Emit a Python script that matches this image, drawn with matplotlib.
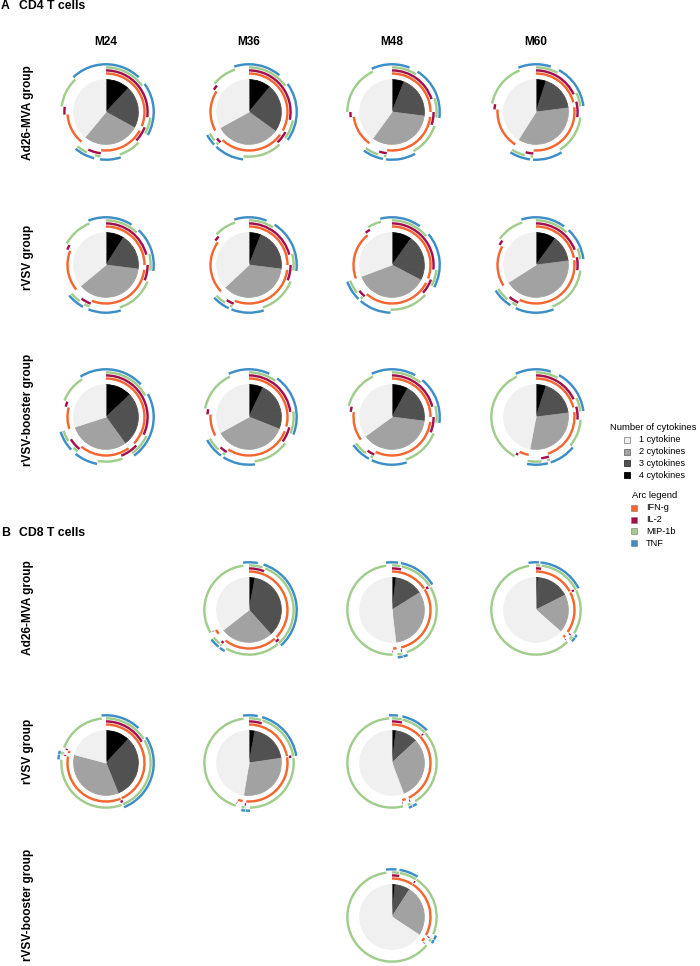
import numpy as np
import matplotlib.pyplot as plt
from matplotlib.patches import Wedge, Rectangle

plt.rcParams['font.family'] = ['Liberation Sans', 'DejaVu Sans']

months = ['M24', 'M36', 'M48', 'M60']
groups = ['Ad26-MVA group', 'rVSV group', 'rVSV-booster group']
cytokines = ['IFN-g', 'IL-2', 'MIP-1b', 'TNF']
count_labels = ['1 cytokine', '2 cytokines', '3 cytokines', '4 cytokines']

# combination order, clockwise from 12 o'clock (I=IFN-g, 2=IL-2, M=MIP-1b, T=TNF)
combos = ['I2MT', 'I2M', 'I2T', 'IMT', '2MT',
          'I2', 'IM', 'IT', '2M', '2T', 'MT',
          'I', '2', 'M', 'T']
letters = 'I2MT'

# percent of responding cells per combination
cd4_ad26 = {
    'M24': [12, 3, 12, 4, 2, 4, 8, 7, 2, 3, 4, 13, 3, 11, 12],
    'M36': [11, 4, 13, 5, 2, 3, 14, 10, 1, 1, 3, 17, 2, 9, 5],
    'M48': [6, 3, 11, 5, 2, 3, 12, 10, 1, 2, 5, 13, 2, 18, 7],
    'M60': [5, 3, 10, 3, 2, 4, 14, 10, 1, 2, 5, 17, 2, 16, 6],
}
cd4_rvsv = {
    'M24': [9, 3, 9, 4, 2, 4, 14, 11, 2, 2, 4, 17, 2, 11, 6],
    'M36': [6, 3, 12, 4, 2, 4, 14, 11, 1, 2, 4, 22, 2, 8, 5],
    'M48': [10, 4, 13, 4, 2, 4, 14, 11, 1, 2, 5, 20, 2, 5, 4],
    'M60': [10, 2, 7, 3, 1, 4, 17, 13, 2, 2, 5, 17, 2, 10, 5],
}
cd4_boost = {
    'M24': [13, 4, 15, 5, 3, 4, 9, 8, 2, 3, 4, 9, 2, 10, 9],
    'M36': [7, 3, 13, 6, 2, 4, 13, 11, 1, 2, 5, 9, 2, 15, 7],
    'M48': [8, 3, 10, 4, 2, 4, 14, 12, 1, 2, 5, 12, 2, 14, 7],
    'M60': [5, 3, 10, 3, 2, 3, 10, 9, 1, 2, 5, 4, 1, 35, 7],
}
cd8_ad26 = {
    'M36': [3, 2, 1, 32, 1, 0.5, 20, 2, 0.5, 0.5, 3, 2, 0.2, 32, 2],
    'M48': [2, 1, 0.5, 12, 0.5, 0.5, 28, 1.5, 0.2, 0.2, 1.5, 1.5, 0.2, 48, 2],
    'M60': [1, 0.5, 0.5, 15, 0.5, 0.3, 16, 1, 0.2, 0.2, 1.3, 1, 0.2, 60, 2.5],
}
cd8_rvsv = {
    'M24': [12, 4, 0.5, 27, 0.5, 0.5, 32, 1.5, 0.2, 0.2, 1, 1, 0.5, 18, 1.5],
    'M36': [3, 1.5, 0.5, 17.5, 0.5, 0.5, 27, 1.5, 0.2, 0.3, 1, 2, 0.2, 44, 2],
    'M48': [2, 1.5, 0.3, 9, 0.2, 0.3, 28, 1.5, 0.2, 0.2, 1, 1.5, 0.2, 53, 1],
}
cd8_boost = {
    'M48': [1.5, 1, 0.3, 6, 0.2, 0.3, 22, 1.5, 0.2, 0.2, 1, 1.5, 0.2, 62, 2],
}

cd4_rows = [cd4_ad26, cd4_rvsv, cd4_boost]
cd8_rows = [cd8_ad26, cd8_rvsv, cd8_boost]

count_colors = ['#f0f0f0', '#a2a2a2', '#515151', '#000000']
count_edges = ['#8c8c8c', '#6e6e6e', '#333333', '#000000']
arc_colors = ['#f4662f', '#a50e4c', '#a0cd8c', '#3d8ec6']
ring_r = [1.19, 1.285, 1.38, 1.475]
ring_w = 0.075

W, H = 700, 966
col_x = [106, 249, 392, 536]
cd4_y = [112, 265, 417]
cd8_y = [610, 763, 917]
cd4_lab_y = [113, 257, 410]
cd8_lab_y = [608, 751, 905]
box = 110


def draw_spice(ax, vals):
    v = np.array(vals, float)
    v = v / v.sum()
    n_pos = [len(c) for c in combos]
    wedges, _ = ax.pie(v, colors=[count_colors[n - 1] for n in n_pos], startangle=90,
                       counterclock=False, radius=1)
    # hide seams between slices of the same colour
    for w in wedges:
        w.set_edgecolor(w.get_facecolor())
        w.set_linewidth(0.6)
    cum = np.concatenate([[0], np.cumsum(v)])
    for k, ch in enumerate(letters):
        i = 0
        while i < len(combos):
            if ch in combos[i]:
                j = i
                while j + 1 < len(combos) and ch in combos[j + 1]:
                    j += 1
                t1 = 90 - 360 * cum[j + 1]
                t2 = 90 - 360 * cum[i]
                if t2 - t1 > 0.3:
                    ax.add_patch(Wedge((0, 0), ring_r[k] + ring_w / 2, t1, t2,
                                       width=ring_w, facecolor=arc_colors[k], lw=0))
                i = j + 1
            else:
                i += 1
    ax.set_xlim(-1.7, 1.7)
    ax.set_ylim(-1.7, 1.7)
    ax.set_aspect('equal')
    ax.axis('off')


fig = plt.figure(figsize=(W / 100, H / 100), dpi=100)
bg = fig.add_axes([0, 0, 1, 1])
bg.set_xlim(0, W)
bg.set_ylim(H, 0)
bg.axis('off')

for rows, ys in [(cd4_rows, cd4_y), (cd8_rows, cd8_y)]:
    for r, row in enumerate(rows):
        for c, m in enumerate(months):
            if m not in row:
                continue
            cx, cy = col_x[c], ys[r]
            ax = fig.add_axes([(cx - box / 2) / W, 1 - (cy + box / 2) / H, box / W, box / H])
            draw_spice(ax, row[m])

# headings
bg.text(1, 6, 'A', fontsize=8.8, fontweight='bold', va='center')
bg.text(19, 6, 'CD4 T cells', fontsize=8.8, fontweight='bold', va='center')
bg.text(1, 533, 'B', fontsize=8.8, fontweight='bold', va='center')
bg.text(19, 533, 'CD8 T cells', fontsize=8.8, fontweight='bold', va='center')
for c, m in enumerate(months):
    bg.text(col_x[c], 42, m, fontsize=8.6, fontweight='bold', ha='center', va='center')
for ys in [cd4_lab_y, cd8_lab_y]:
    for g, y in zip(groups, ys):
        bg.text(28, y, g, fontsize=8.6, fontweight='bold', rotation=90,
                ha='center', va='center')

# legend: number of cytokines
bg.text(610, 427, 'Number of cytokines', fontsize=6.8, va='center')
for i, lab in enumerate(count_labels):
    y = 440 + i * 11.7
    bg.add_patch(Rectangle((623.5, y - 3), 6, 6, facecolor=count_colors[i],
                           edgecolor=count_edges[i], lw=0.6))
    bg.text(639, y, lab, fontsize=6.6, va='center')

# legend: arcs
bg.text(632, 496, 'Arc legend', fontsize=6.8, va='center')
for i, lab in enumerate(cytokines):
    y = 508 + i * 11.7
    bg.add_patch(Rectangle((630.5, y - 3), 6, 6, facecolor=arc_colors[i],
                           edgecolor='#777777', lw=0.4))
    bg.text(646, y, lab, fontsize=6.6, va='center')

fig.savefig('out.png', dpi=100)
